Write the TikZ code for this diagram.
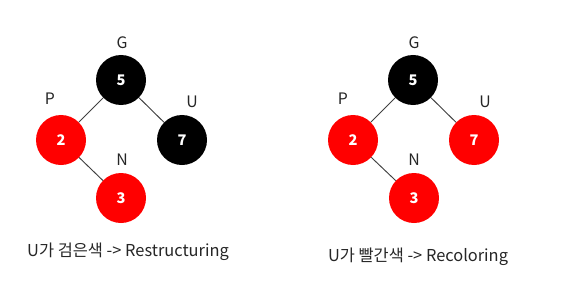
\documentclass[tikz,border=0pt]{standalone}
\usepackage{fontspec}
\setmainfont{Noto Sans CJK KR}
\usepackage{tikz}
\usetikzlibrary{positioning}
\begin{document}
\begin{tikzpicture}[x=0.03cm,y=-0.03cm]
\tikzset{
  bk/.style={circle,fill=black,minimum size=1.5cm,inner sep=0pt,text=white,font=\fontsize{12.5}{14}\selectfont\bfseries},
  rd/.style={bk,fill=red},
  lb/.style={font=\fontsize{13.5}{15}\selectfont,text=black!85},
  captxt/.style={font=\fontsize{14}{16}\selectfont,text=black!85},
  ed/.style={draw=black!75,line width=0.8pt}
}
\useasboundingbox (0,0) rectangle (564,282);
% restructuring
\node[bk] (g1) at (121,80) {5};
\node[rd] (p1) at (61,140) {2};
\node[bk] (u1) at (182,140) {7};
\node[rd] (n1) at (121,198) {3};
\node[lb] (gl1) at (122,43) {G};
\node[lb] (pl1) at (50,99) {P};
\node[lb] (ul1) at (192,102) {U};
\node[lb] (nl1) at (122,160) {N};
\draw[ed] (g1)--(p1); \draw[ed] (g1)--(u1); \draw[ed] (p1)--(n1);
\node[captxt] (c1) at (128,252) {U가 검은색 -> Restructuring};
% recoloring
\node[bk] (g2) at (413,80) {5};
\node[rd] (p2) at (353,140) {2};
\node[rd] (u2) at (474,140) {7};
\node[rd] (n2) at (414,198) {3};
\node[lb] (gl2) at (414,43) {G};
\node[lb] (pl2) at (343,99) {P};
\node[lb] (ul2) at (485,102) {U};
\node[lb] (nl2) at (414,160) {N};
\draw[ed] (g2)--(p2); \draw[ed] (g2)--(u2); \draw[ed] (p2)--(n2);
\node[captxt] (c2) at (418,257) {U가 빨간색 -> Recoloring};
\end{tikzpicture}
\end{document}
